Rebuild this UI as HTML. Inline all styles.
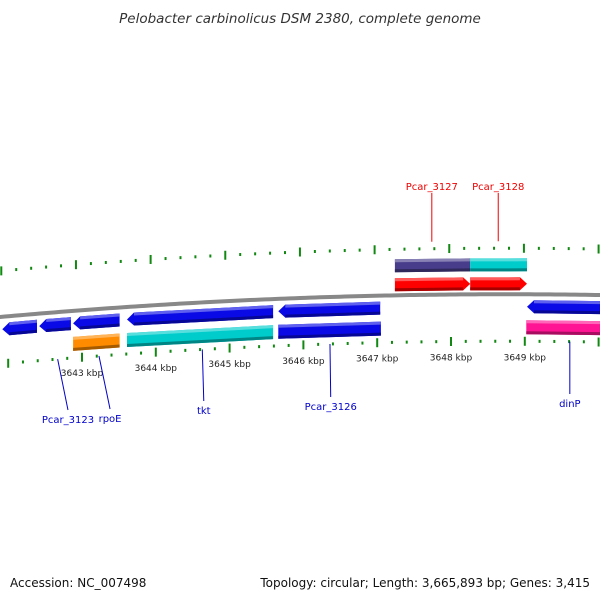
<!DOCTYPE html>
<html><head><meta charset="utf-8"><style>
body{margin:0;background:#fff;}
svg{display:block;font-family:"DejaVu Sans","Liberation Sans",sans-serif;}
</style></head><body>
<svg id="chart" width="600" height="600" viewBox="0 0 600 600">
<text x="300" y="23" text-anchor="middle" font-size="13.5" font-style="italic" fill="#333">Pelobacter carbinolicus DSM 2380, complete genome</text>
<text x="10" y="587" font-size="12" fill="#111">Accession: NC_007498</text>
<text x="590" y="587" text-anchor="end" font-size="12" fill="#111">Topology: circular; Length: 3,665,893 bp; Genes: 3,415</text>
<g id="g"></g>
</svg>
<script>
// data (kbp)
const tickKbpStart = 3641.8, tickKbpEnd = 3650.2;
const kbpLabels = [3643, 3644, 3645, 3646, 3647, 3648, 3649];
const geneStarts = [3641.92, 3642.42, 3642.88, 3643.61, 3645.66, 3649.03, 3642.88, 3643.61, 3645.66, 3649.02, 3647.24, 3648.26, 3647.24, 3648.26];
const geneEnds   = [3642.39, 3642.85, 3643.51, 3645.59, 3647.04, 3650.3, 3643.51, 3645.59, 3647.05, 3650.3, 3648.26, 3649.03, 3648.26, 3649.03];
const geneLanes  = [1,1,1,1,1,1,2,2,2,2,-2,-2,-1,-1];
const geneStrand = [-1,-1,-1,-1,-1,-1,0,0,0,0,0,0,1,1];
const geneColors = ["#0a0ae6","#0a0ae6","#0a0ae6","#0a0ae6","#0a0ae6","#0a0ae6","#ff8c00","#00cccc","#0a0ae6","#ff1493","#483d8b","#00cccc","#ff0000","#ff0000"];
const labelNames = ["Pcar_3123","rpoE","tkt","Pcar_3126","dinP","Pcar_3127","Pcar_3128"];
const labelGeneKbp = [3642.67, 3643.23, 3644.63, 3646.36, 3649.61, 3647.74, 3648.64];
const labelTextKbp = [3642.81, 3643.38, 3644.65, 3646.37, 3649.61, 3647.74, 3648.64];
const labelSide = [1,1,1,1,1,-1,-1];
const labelColor = ["#0000cc","#0000cc","#0000cc","#0000cc","#0000cc","#ee0000","#ee0000"];
const labelDepth = [419,418,410,406,403,186,186];

const NS="http://www.w3.org/2000/svg";
const G=document.getElementById('g');
const X = k => 82 + (k-3643)*73.8;
const base = x => 317 - 0.09*x + 8.9e-5*x*x;
function el(t,a){const e=document.createElementNS(NS,t);for(const k in a)e.setAttribute(k,a[k]);G.appendChild(e);return e;}
let d="";for(let x=-5;x<=605;x+=5)d+=(x==-5?"M":"L")+x+","+base(x).toFixed(2);
let bb=el('path',{d:d,stroke:"#888",'stroke-width':4,fill:"none"});


for(let i=0;;i++){const k=tickKbpStart+i*0.2; if(k>tickKbpEnd+1e-6)break;
 const major=Math.abs(k-Math.round(k))<1e-6;
 const xb=X(k); const xt=xb-7*(600-xb)/600;
 const len=major?9:3;
 const yb=base(xb)+47, yt=base(xt)-46;
 let t1=el('line',{x1:xb,x2:xb,y1:yb-len/2,y2:yb+len/2,stroke:"#118811",'stroke-width':2});
 
 
 let t2=el('line',{x1:xt,x2:xt,y1:yt-len/2,y2:yt+len/2,stroke:"#118811",'stroke-width':2});
 
 
}
kbpLabels.forEach(k=>{const x=X(k);
 let t=el('text',{x:x,y:base(x)+66,'text-anchor':'middle','font-size':9,fill:"#222"});t.textContent=k+" kbp";
 
 });
const laneOff={1:[6,19],2:[26,40],"-1":[-17,-4],"-2":[-36,-23]};
function shade(c,f){const n=parseInt(c.slice(1),16);let r=n>>16,g=(n>>8)&255,b=n&255;
 const m=v=>Math.max(0,Math.min(255,Math.round(f>1?v+(255-v)*(f-1):v*f)));return `rgb(${m(r)},${m(g)},${m(b)})`;}
geneStarts.forEach((s,i)=>{
 const x1=X(s),x2=X(geneEnds[i]);const [o1,o2]=laneOff[geneLanes[i]];
 const st=geneStrand[i],c=geneColors[i],a=7;
 const pt=(x,o)=>x.toFixed(1)+","+(base(x)+o).toFixed(1);
 const mid=(o1+o2)/2;let pts;
 if(st<0)pts=[pt(x1,mid),pt(x1+a,o1),pt(x2,o1),pt(x2,o2),pt(x1+a,o2)];
 else if(st>0)pts=[pt(x1,o1),pt(x2-a,o1),pt(x2,mid),pt(x2-a,o2),pt(x1,o2)];
 else pts=[pt(x1,o1),pt(x2,o1),pt(x2,o2),pt(x1,o2)];
 let p=el('polygon',{points:pts.join(" "),fill:c});
 
 
 const xs1=st<0?x1+a:x1, xs2=st>0?x2-a:x2;
 el('polygon',{points:[pt(xs1,o1),pt(xs2,o1),pt(xs2,o1+3),pt(xs1,o1+3)].join(" "),fill:shade(c,1.35)});
 el('polygon',{points:[pt(xs1,o2-3),pt(xs2,o2-3),pt(xs2,o2),pt(xs1,o2)].join(" "),fill:shade(c,0.65)});
});
labelNames.forEach((n,i)=>{
 const xg=X(labelGeneKbp[i]), xt=X(labelTextKbp[i]);const side=labelSide[i];const y=labelDepth[i];
 const yg=side>0?base(xg)+47:base(xg)-53;
 let l=el('line',{x1:xg,y1:yg,x2:xt,y2:side>0?y-9:y+7,stroke:labelColor[i],'stroke-width':1});
 
 
 let t=el('text',{x:xt,y:y+4,'text-anchor':'middle','font-size':10,fill:labelColor[i]});t.textContent=n;
 
 
});
</script>
</body></html>
